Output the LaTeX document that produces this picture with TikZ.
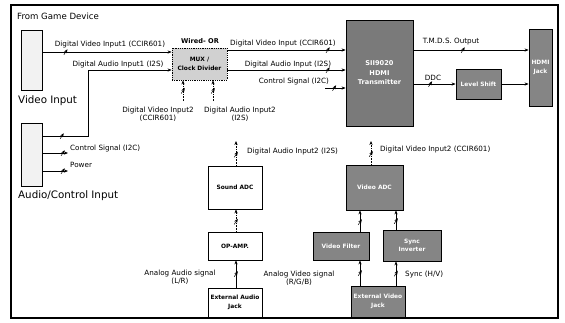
\documentclass[tikz,border=0pt]{standalone}
\usepackage{fontspec}
\setmainfont{DejaVu Sans}
\setsansfont{DejaVu Sans}
\usetikzlibrary{arrows.meta,decorations.markings}
\begin{document}
\begin{tikzpicture}[x=1pt,y=-1pt,
  lbl/.style={font=\fontsize{7.2}{8}\selectfont, inner sep=0pt, align=center},
  big/.style={font=\fontsize{10.3}{12}\selectfont, inner sep=0pt, anchor=west},
  box/.style={draw, line width=0.8pt, inner sep=0pt, align=center, font=\bfseries\fontsize{5.9}{8.5}\selectfont},
  graybox/.style={box, fill=black!48, text=white},
  inbox/.style={draw, line width=0.8pt, fill=black!5, inner sep=0pt},
  arr/.style={line width=0.6pt, -{Stealth[length=4pt,width=3.2pt]}},
  dotarr/.style={arr, densely dotted},
  slashmark/.style={postaction={decorate,decoration={markings,mark=at position #1 with {\pgftransformresetnontranslations\draw[solid,line width=0.5pt] (-1.8pt,-2.8pt) -- (1.8pt,2.8pt);}}}}
]
\useasboundingbox (0,0) rectangle (565,322);
\draw[line width=1.3pt] (11,5) rectangle (558,318);
\node[font=\fontsize{8.6}{10}\selectfont, anchor=west, inner sep=0pt] (title) at (17,16) {From Game Device};

% input boxes
\node[inbox, minimum width=21pt, minimum height=60pt] (vin) at (31.5,60) {};
\node[big] (vinl) at (18,101) {Video Input};
\node[inbox, minimum width=21pt, minimum height=63pt] (acin) at (31.5,154.5) {};
\node[big] (acinl) at (18,196) {Audio/Control Input};

% MUX
\node[box, densely dotted, fill=black!18, minimum width=55pt, minimum height=32pt] (mux) at (199.5,64) {MUX /\\Clock Divider};
\node[lbl, font=\bfseries\fontsize{6.6}{7.6}\selectfont] (wor) at (200,41) {Wired- OR};

% SII9020
\node[graybox, fill=black!52, font=\bfseries\fontsize{6.6}{9.5}\selectfont, minimum width=67pt, minimum height=106pt] (sii) at (379.5,73) {SII9020\\HDMI\\Transmitter};
\node[graybox, minimum width=23pt, minimum height=77pt] (hdmi) at (540.5,67.5) {HDMI\\Jack};
\node[graybox, minimum width=45pt, minimum height=30pt] (lvl) at (478.5,84) {Level Shift};

% audio chain
\node[box, minimum width=54pt, minimum height=43pt] (sadc) at (235,187.5) {Sound ADC};
\node[box, minimum width=54pt, minimum height=28pt] (opamp) at (235,246) {OP-AMP.};
\node[box, minimum width=54pt, minimum height=29pt] (eaj) at (235,302.5) {External Audio\\Jack};

% video chain
\node[graybox, minimum width=57pt, minimum height=45pt] (vadc) at (374.5,187.5) {Video ADC};
\node[graybox, minimum width=56pt, minimum height=28pt] (vfil) at (341,246) {Video Filter};
\node[graybox, minimum width=58pt, minimum height=31pt] (sinv) at (412,245.5) {Sync\\Inverter};
\node[graybox, minimum width=54pt, minimum height=31pt] (evj) at (378,301.5) {External Video\\Jack};

% free ends
\coordinate (csend) at (68,153);
\coordinate (pwend) at (68,171);
\coordinate (v2start) at (183,101);
\coordinate (a2start) at (213,101);
\coordinate (cs2start) at (325,88);
\coordinate (saout) at (236,141);
\coordinate (vaout) at (371,141);

% left connectors
\draw[arr, slashmark=0.18] (vin.east |- 0,52) -- (mux.west |- 0,52);
\draw[arr, slashmark=0.1] (acin.east |- 0,136) -- (88,136) |- (mux.west |- 0,70);
\draw[arr, slashmark=0.8] (acin.east |- 0,153) -- (csend);
\draw[arr, slashmark=0.8] (acin.east |- 0,171) -- (pwend);
\draw[dotarr, slashmark=0.5] (v2start) -- (mux.south -| v2start);
\draw[dotarr, slashmark=0.5] (a2start) -- (mux.south -| a2start);

\node[lbl] (l1) at (110,45) {Digital Video Input1 (CCIR601)};
\node[lbl] (l2) at (118,65) {Digital Audio Input1 (I2S)};
\node[lbl, anchor=west] (l3) at (70,149) {Control Signal (I2C)};
\node[lbl, anchor=west] (l4) at (70,165) {Power};
\node[lbl] (l5) at (158,114) {Digital Video Input2\\(CCIR601)};
\node[lbl] (l6) at (240,114) {Digital Audio Input2\\(I2S)};

% MUX to SII
\draw[arr, slashmark=0.85] (mux.east |- 0,50) -- (sii.west |- 0,50);
\draw[arr, slashmark=0.85] (mux.east |- 0,70) -- (sii.west |- 0,70);
\draw[arr, slashmark=0.45] (cs2start) -- (sii.west |- cs2start);
\node[lbl] (l7) at (283,44) {Digital Video Input (CCIR601)};
\node[lbl] (l8) at (288,64.5) {Digital Audio Input (I2S)};
\node[lbl] (l9) at (294,82) {Control Signal (I2C)};

% right side
\draw[arr, slashmark=0.43] (sii.east |- 0,50) -- (hdmi.west |- 0,50);
\draw[arr, slashmark=0.4] (sii.east |- lvl.west) -- (lvl.west);
\draw[arr] (lvl.east) -- (hdmi.west |- lvl.east);
\node[lbl] (l10) at (451,42) {T.M.D.S. Output};
\node[lbl] (l11) at (433,78) {DDC};

% audio chain connectors
\draw[dotarr, slashmark=0.45] (sadc.north -| saout) -- (saout);
\draw[dotarr, slashmark=0.45] (opamp.north -| saout) -- (sadc.south -| saout);
\draw[arr, slashmark=0.5] (eaj.north -| saout) -- (opamp.south -| saout);
\node[lbl, anchor=west] (l12) at (247,152) {Digital Audio Input2 (I2S)};
\node[lbl] (l13) at (180,277) {Analog Audio signal\\(L/R)};

% video chain connectors
\draw[dotarr, slashmark=0.45] (vadc.north -| vaout) -- (vaout);
\draw[arr, slashmark=0.45] (vfil.north -| 360,0) -- (vadc.south -| 360,0);
\draw[arr, slashmark=0.45] (sinv.north -| 396,0) -- (vadc.south -| 396,0);
\draw[arr, slashmark=0.5] (evj.north -| 360,0) -- (vfil.south -| 360,0);
\draw[arr, slashmark=0.5] (evj.north -| 396,0) -- (sinv.south -| 396,0);
\node[lbl, anchor=west] (l14) at (380,150) {Digital Video Input2 (CCIR601)};
\node[lbl] (l15) at (299,278) {Analog Video signal\\(R/G/B)};
\node[lbl, anchor=west] (l16) at (405,275) {Sync (H/V)};
\end{tikzpicture}
\end{document}
